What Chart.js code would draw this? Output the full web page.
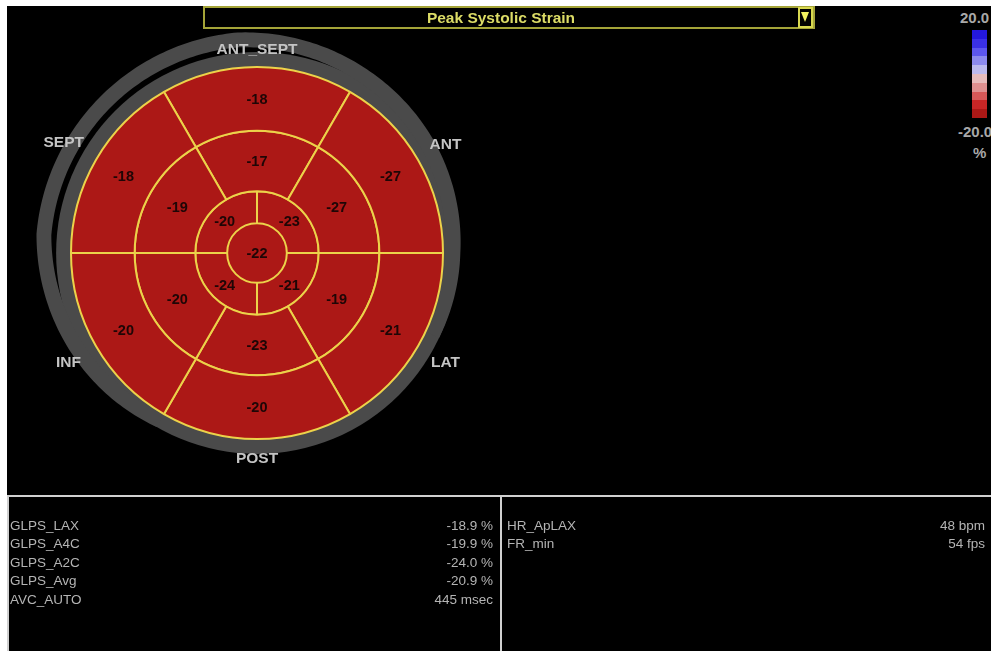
<!DOCTYPE html>
<html>
  <head>
    <title>
      Peak Systolic Strain
    </title>
    <script src="https://cdn.jsdelivr.net/npm/chart.js"></script>
    <style>
      body { margin: 0; background: #fff; font-family: Arial, 'Liberation Sans', sans-serif; }
      #screen { position: absolute; left: 7px; top: 6px; width: 984px; height: 645px; background: #000; }
      #chartBox { position: absolute; left: 7px; top: 6px; width: 500px; height: 490px; }
      #titleBar { position: absolute; left: 203px; top: 6px; width: 612px; height: 23px; box-sizing: border-box;
        border: 2px solid #a4a438; color: #dcdc66; font-weight: bold; font-size: 15.5px; line-height: 20px; }
      #titleBar span { position: absolute; left: 0; right: 16px; text-align: center; }
      #dropIcon { position: absolute; right: 0px; top: -1px; width: 11px; height: 17px; border: 2px solid #d8d850; }
      #dropIcon::after { content: ''; position: absolute; left: 1px; top: 3px; border-left: 4.5px solid transparent;
        border-right: 4.5px solid transparent; border-top: 10px solid #f0f060; }
      #colorBar { position: absolute; left: 972px; top: 30px; width: 15px; height: 88px; display: flex; flex-direction: column; }
      #colorBar div { flex: 1; }
      .cbLabel { position: absolute; color: #a8a8a8; font-weight: bold; font-size: 15px; }
      .panel { position: absolute; top: 495px; height: 160px; box-sizing: border-box; border-top: 2px solid #d0d0d0;
        padding-top: 20px; color: #b4b4b4; font-size: 13.5px; }
      .row { display: flex; justify-content: space-between; height: 18.4px; line-height: 18.4px; }
    </style>
  </head>
  <body>
    <div id="screen"></div>
    <div id="chartBox"><canvas id="bullseye" width="500" height="490"></canvas></div>
    <div id="titleBar"><span id="titleText"></span><div id="dropIcon"></div></div>
    <div id="colorBar"></div>
    <div class="cbLabel" id="cbTop" style="left:960px; top:9px;"></div>
    <div class="cbLabel" id="cbBottom" style="left:958px; top:123px;"></div>
    <div class="cbLabel" id="cbUnit" style="left:973px; top:144px;"></div>
    <div class="panel" id="leftPanel" style="left:7px; width:495px; border-left:2px solid #d0d0d0; border-right:2px solid #d0d0d0; padding-left:1px; padding-right:7px;"></div>
    <div class="panel" id="rightPanel" style="left:502px; width:489px; padding-left:5px; padding-right:6px;"></div>
    <script>
      'use strict'
      const title = 'Peak Systolic Strain';

      // 17 segment model, clockwise from the top (ANT_SEPT)
      const basalValues = [-18, -27, -21, -20, -20, -18];
      const midValues = [-17, -27, -19, -23, -20, -19];
      // apical ring, clockwise from 12 o'clock
      const apicalValues = [-23, -21, -24, -20];
      const apexValues = [-22];
      const wallLabels = ['ANT_SEPT', 'ANT', 'LAT', 'POST', 'INF', 'SEPT'];

      const scaleMax = 20;
      const scaleMin = -20;
      const scaleUnit = '%';
      const scaleColors = ['#2418dc', '#3a30e6', '#5c56ee', '#8c8aee', '#bcbaee',
        '#e6bcbc', '#de9090', '#d65858', '#c82626', '#ac1816'];

      const globalLabels = ['GLPS_LAX', 'GLPS_A4C', 'GLPS_A2C', 'GLPS_Avg', 'AVC_AUTO'];
      const globalValues = ['-18.9 %', '-19.9 %', '-24.0 %', '-20.9 %', '445 msec'];
      const infoLabels = ['HR_ApLAX', 'FR_min'];
      const infoValues = ['48 bpm', '54 fps'];

      function strainColor(v) {
        const step = (scaleMax - scaleMin) / scaleColors.length;
        let i = Math.floor((scaleMax - v) / step);
        i = Math.max(0, Math.min(scaleColors.length - 1, i));
        return scaleColors[i];
      }

      // how far the outer grey band drifts away from the ring, by angle (deg, canvas)
      function bandShift(d) {
        const knots = [[120, 0], [185, 1], [265, 1], [300, 0.65], [330, 0.4], [360, 0.12], [385, 0]];
        for (let k = 1; k < knots.length; k++) {
          if (d <= knots[k][0]) {
            const [d0, t0] = knots[k - 1];
            const [d1, t1] = knots[k];
            return t0 + (t1 - t0) * (d - d0) / (d1 - d0);
          }
        }
        return 0;
      }

      const bullseyePlugin = {
        id: 'bullseye',
        beforeDatasetsDraw(chart) {
          const arc = chart.getDatasetMeta(0).data[0];
          const { x, y, outerRadius: R } = arc.getProps(['x', 'y', 'outerRadius'], true);
          const ctx = chart.ctx;
          ctx.save();
          ctx.fillStyle = '#4a4a4a';
          ctx.beginPath();
          ctx.arc(x, y, R * 1.08, 0, Math.PI * 2);
          ctx.fill();

          const outer = [];
          const inner = [];
          for (let d = 120; d <= 385; d += 1) {
            const t = bandShift(d);
            const a = d * Math.PI / 180;
            const rOut = R * (1.08 + 0.11 * t);
            const rIn = R * (1.0 + 0.11 * t);
            outer.push([x + rOut * Math.cos(a), y + rOut * Math.sin(a)]);
            inner.push([x + rIn * Math.cos(a), y + rIn * Math.sin(a)]);
          }
          ctx.beginPath();
          outer.forEach((p, i) => i ? ctx.lineTo(p[0], p[1]) : ctx.moveTo(p[0], p[1]));
          inner.reverse().forEach(p => ctx.lineTo(p[0], p[1]));
          ctx.closePath();
          ctx.fill();
          ctx.restore();
        },
        afterDatasetsDraw(chart) {
          const ctx = chart.ctx;
          ctx.save();
          ctx.textAlign = 'center';
          ctx.textBaseline = 'middle';

          // segment values
          ctx.font = 'bold 14.5px Arial';
          ctx.fillStyle = '#1e0606';
          chart.data.datasets.forEach((ds, di) => {
            chart.getDatasetMeta(di).data.forEach((arc, i) => {
              const p = arc.getProps(['x', 'y', 'circumference'], true);
              const c = p.circumference >= Math.PI * 2 - 0.01 ? p : arc.getCenterPoint();
              ctx.fillText(String(ds.strain[i]), c.x, c.y + 1);
            });
          });

          // wall names around the plot
          const arc = chart.getDatasetMeta(0).data[0];
          const { x, y, outerRadius: R } = arc.getProps(['x', 'y', 'outerRadius'], true);
          ctx.font = 'bold 15.5px Arial';
          ctx.fillStyle = '#c4c4c4';
          wallLabels.forEach((name, i) => {
            const a = (-90 + 60 * i) * Math.PI / 180;
            const r = R * (i % 3 === 0 ? 1.10 : (i === 5 ? 1.2 : 1.17));
            ctx.fillText(name, x + r * Math.cos(a), y + r * Math.sin(a) + 1);
          });
          ctx.restore();
        }
      };

      const rings = [
        { values: basalValues, weight: 64, rotation: -30, border: 2 },
        { values: midValues, weight: 61, rotation: -30, border: 2 },
        { values: apicalValues, weight: 32, rotation: 0, border: 2 },
        { values: apexValues, weight: 30, rotation: 0, border: 0 },
      ];

      new Chart(document.getElementById('bullseye'), {
        type: 'doughnut',
        data: {
          labels: wallLabels,
          datasets: rings.map(r => ({
            data: r.values.map(() => 1),
            strain: r.values,
            backgroundColor: r.values.map(strainColor),
            borderColor: '#ecd24a',
            borderWidth: r.border,
            weight: r.weight,
            rotation: r.rotation,
          }))
        },
        options: {
          responsive: false,
          animation: false,
          events: [],
          cutout: 0,
          layout: { padding: { left: 63, right: 63, top: 60, bottom: 56 } },
          plugins: {
            legend: { display: false },
            tooltip: { enabled: false },
          }
        },
        plugins: [bullseyePlugin]
      });

      document.getElementById('titleText').textContent = title;
      document.getElementById('colorBar').innerHTML = scaleColors.map(c => `<div style="background:${c}"></div>`).join('');
      document.getElementById('cbTop').textContent = scaleMax.toFixed(1);
      document.getElementById('cbBottom').textContent = scaleMin.toFixed(1);
      document.getElementById('cbUnit').textContent = scaleUnit;

      function fillPanel(id, labels, values) {
        document.getElementById(id).innerHTML = labels
          .map((l, i) => `<div class="row"><span>${l}</span><span>${values[i]}</span></div>`).join('');
      }
      fillPanel('leftPanel', globalLabels, globalValues);
      fillPanel('rightPanel', infoLabels, infoValues);
    </script>
  </body>
</html>
